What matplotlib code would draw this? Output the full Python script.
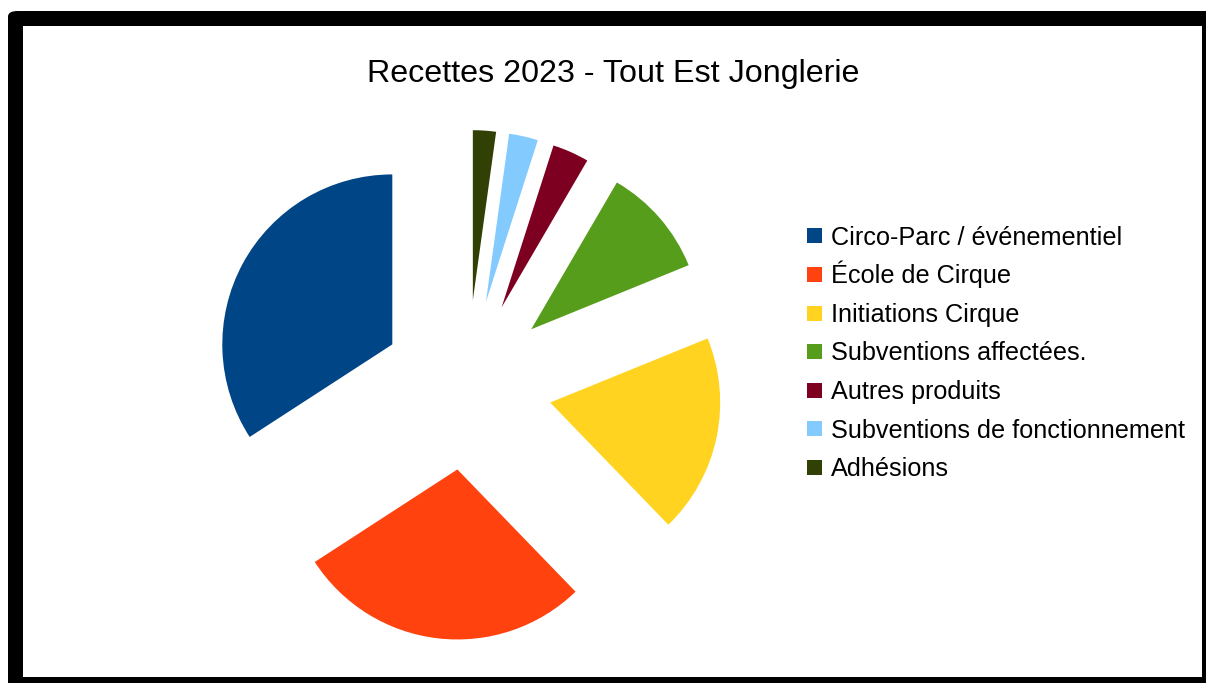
import matplotlib
matplotlib.use("Agg")
import matplotlib.pyplot as plt
from matplotlib.patches import FancyBboxPatch, Rectangle

plt.rcParams["font.family"] = ["Liberation Sans", "DejaVu Sans"]

# share of 2023 receipts (percent)
labels = [
    "Circo-Parc / événementiel",
    "École de Cirque",
    "Initiations Cirque",
    "Subventions affectées.",
    "Autres produits",
    "Subventions de fonctionnement",
    "Adhésions",
]
shares = [34.17, 28.08, 18.93, 10.44, 3.47, 2.75, 2.19]
colors = ["#004586", "#ff420e", "#ffd320", "#579d1c", "#7e0021", "#83caff", "#314004"]

W, H = 1206, 683
fig = plt.figure(figsize=(W / 100, H / 100), dpi=100)
fig.patch.set_facecolor("white")

# black frame with rounded top-left corner
frame = FancyBboxPatch((8 / W, -20 / H), 1230 / W, (683 - 11 + 20) / H,
                       boxstyle="round,pad=0,rounding_size=0.008",
                       transform=fig.transFigure, facecolor="black",
                       edgecolor="none", zorder=-2)
fig.patches.append(frame)
inner = Rectangle((23 / W, 6 / H), (1202 - 23) / W, (677 - 26) / H,
                  transform=fig.transFigure, facecolor="white",
                  edgecolor="none", zorder=-1)
fig.patches.append(inner)

# pie: centre at (467, 385) px, radius 170 px
cx, cy, r = 467, 385, 170
half = 1.5 * r
ax = fig.add_axes([(cx - half) / W, (H - cy - half) / H, 2 * half / W, 2 * half / H])
wedges, _ = ax.pie(shares, colors=colors, startangle=90, counterclock=True,
                   explode=[0.5] * len(shares), radius=1.0,
                   wedgeprops=dict(linewidth=0), frame=True)
ax.set_xlim(-1.5, 1.5)
ax.set_ylim(-1.5, 1.5)
ax.set_aspect("equal")
ax.axis("off")

fig.text(613.5 / W, 1 - 82 / H, "Recettes 2023 - Tout Est Jonglerie",
         ha="center", va="baseline", fontsize=23.2, color="black")

# legend drawn row by row so spacing stays even
row0, step = 236, 38.5
for i, (lab, w) in enumerate(zip(labels, wedges)):
    yc = row0 + step * i
    fig.patches.append(Rectangle((807 / W, 1 - (yc + 7.5) / H), 15 / W, 15 / H,
                                 transform=fig.transFigure,
                                 facecolor=w.get_facecolor(), edgecolor="none"))
    fig.text(831 / W, 1 - (yc + 9) / H, lab, ha="left", va="baseline",
             fontsize=18.2, color="black")

fig.savefig("out.png", dpi=100, facecolor="white")
